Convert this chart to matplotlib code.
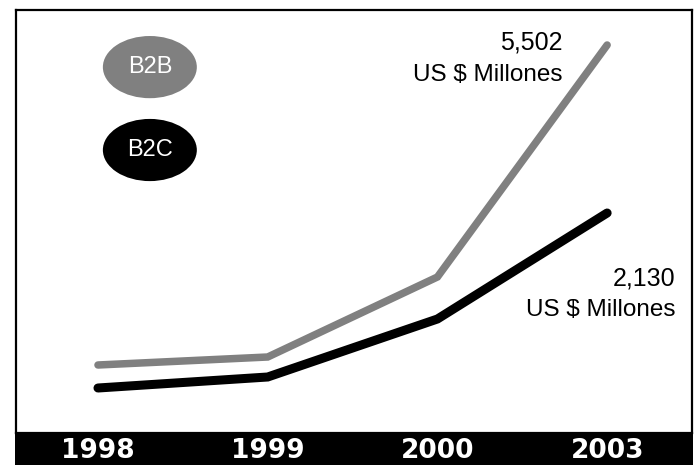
import matplotlib.pyplot as plt
from matplotlib.patches import Ellipse

years = ['1998', '1999', '2000', '2003']
b2b = [68, 76, 156, 388]   # relative height
b2c = [45, 56, 114, 220]
b2b_label = ['5,502', 'US $ Millones']
b2c_label = ['2,130', 'US $ Millones']

plt.rcParams['font.family'] = ['Liberation Sans', 'DejaVu Sans']

W, H = 696, 465
fig = plt.figure(figsize=(6.96, 4.65), dpi=100)

# main panel: pixels x 16..692, y 10..433
ax = fig.add_axes([16 / W, (H - 433) / H, 676 / W, 423 / H])
x = range(len(years))
ax.plot(x, b2b, color='#808080', lw=5.4, solid_capstyle='round', solid_joinstyle='miter')
ax.plot(x, b2c, color='black', lw=6.5, solid_capstyle='round', solid_joinstyle='miter')
ax.set_xlim(-0.483, 3.50)
ax.set_ylim(0, 423)
ax.set_xticks([])
ax.set_yticks([])
for s in ax.spines.values():
    s.set_linewidth(1.6)

# legend ellipses
ax.add_patch(Ellipse((0.198, 0.865), 0.139, 0.147, transform=ax.transAxes,
                     color='#808080', lw=0))
ax.text(0.198, 0.865, 'B2B', transform=ax.transAxes, color='white',
        fontsize=17, ha='center', va='center')
ax.add_patch(Ellipse((0.198, 0.669), 0.139, 0.147, transform=ax.transAxes,
                     color='black', lw=0))
ax.text(0.198, 0.669, 'B2C', transform=ax.transAxes, color='white',
        fontsize=17, ha='center', va='center')

# value labels
ax.text(0.808, 0.922, b2b_label[0], transform=ax.transAxes, fontsize=18,
        ha='right', va='center')
ax.text(0.808, 0.846, b2b_label[1], transform=ax.transAxes, fontsize=17.5,
        ha='right', va='center')
ax.text(0.975, 0.366, b2c_label[0], transform=ax.transAxes, fontsize=18,
        ha='right', va='center')
ax.text(0.975, 0.291, b2c_label[1], transform=ax.transAxes, fontsize=17.5,
        ha='right', va='center')

# black year bar
bar = fig.add_axes([15 / W, 0, 678 / W, (H - 433) / H])
bar.set_facecolor('black')
bar.set_xlim(-0.483 - 1 / 169.67, 3.50 + 1 / 169.67)
bar.set_ylim(0, 1)
bar.set_xticks([])
bar.set_yticks([])
for s in bar.spines.values():
    s.set_visible(False)
for i, yr in enumerate(years):
    bar.text(i, 0.45, yr, color='white', fontsize=19, fontweight='bold',
             family='DejaVu Sans', ha='center', va='center')

fig.savefig('out.png', dpi=100)
